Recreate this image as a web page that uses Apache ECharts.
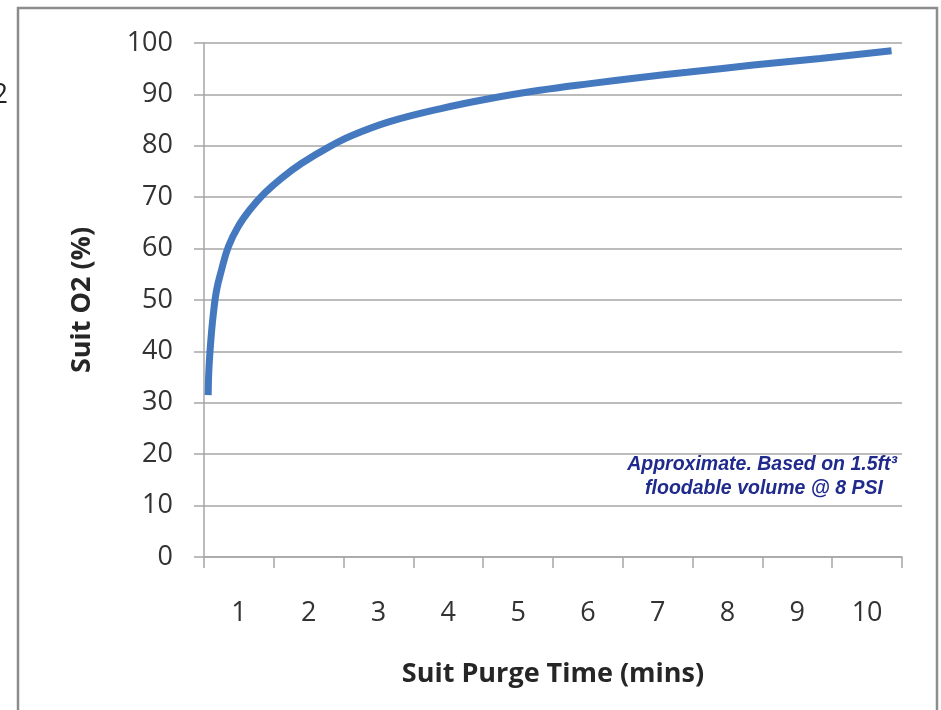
<!DOCTYPE html>
<html><head><meta charset="utf-8">
<script src="https://cdn.jsdelivr.net/npm/echarts@6/dist/echarts.min.js"></script>
<style>html,body{margin:0;padding:0;background:#fff}#c{width:941px;height:710px}</style>
</head><body><div id="c"></div>
<script>
const categories = ['1','2','3','4','5','6','7','8','9','10'];
const yTicks = {min: 0, max: 100, interval: 10};
// purge time (mins), suit O2 (%)
const purgeTime = [0.56, 0.57, 0.596, 0.633, 0.68, 0.754, 0.85, 0.99, 1.16, 1.37, 1.61, 1.90, 2.28, 2.62, 3.16, 3.88, 4.60, 5.31, 6.03, 6.75, 7.42, 8.37, 9.33, 10.35];
const suitO2    = [31.5, 36.4, 41.8, 47.2, 51.9, 56.0, 60.4, 64.3, 67.6, 70.8, 73.7, 76.6, 79.7, 82.0, 84.7, 87.2, 89.2, 90.8, 92.1, 93.3, 94.3, 95.7, 97.0, 98.5];
const noteLines = ['Approximate. Based on 1.5ft\u00B3', 'floodable volume @ 8 PSI'];

const chart = echarts.init(document.getElementById('c'), null, {renderer: 'canvas'});
const font = '"Open Sans", Lato, sans-serif';
const gridCol = '#a6a6a6';
chart.setOption({
  animation: false,
  backgroundColor: '#fff',
  grid: {left: 204, right: 39, top: 43, bottom: 153},
  xAxis: [{
    type: 'category', data: categories, boundaryGap: true,
    name: 'Suit Purge Time (mins)', nameLocation: 'middle', nameGap: 104,
    nameTextStyle: {fontFamily: font, fontSize: 27, fontWeight: 'bold', color: '#262626'},
    axisLine: {lineStyle: {color: gridCol, width: 1.5}},
    axisTick: {show: true, length: 11, lineStyle: {color: gridCol, width: 1.5}},
    axisLabel: {fontFamily: font, fontSize: 27, color: '#333', margin: 43},
    splitLine: {show: false}
  }, {
    type: 'value', min: 0.5, max: 10.5, show: false
  }],
  yAxis: {
    type: 'value', min: yTicks.min, max: yTicks.max, interval: yTicks.interval,
    name: 'Suit O2 (%)', nameLocation: 'middle', nameGap: 108,
    nameTextStyle: {fontFamily: font, fontSize: 27, fontWeight: 'bold', color: '#262626'},
    axisLine: {show: true, lineStyle: {color: gridCol, width: 1.5}},
    axisTick: {show: true, length: 10, lineStyle: {color: gridCol, width: 1.5}},
    axisLabel: {fontFamily: font, fontSize: 27, color: '#333', margin: 31},
    splitLine: {show: true, lineStyle: {color: gridCol, width: 1.5}}
  },
  series: [{
    type: 'line', xAxisIndex: 1, data: purgeTime.map((t, i) => [t, suitO2[i]]),
    smooth: 0.4, showSymbol: false,
    lineStyle: {color: '#4479bf', width: 7, cap: 'butt'}
  }],
  graphic: [
    {type: 'rect', shape: {x: 18, y: 8, width: 919, height: 720},
     style: {fill: 'none', stroke: '#8c8c8c', lineWidth: 2.5}},
    {type: 'text', x: 8, y: 95, style: {text: '2', fontSize: 27, fontFamily: font, fill: '#222', align: 'right', verticalAlign: 'middle'}},
    {type: 'text', x: 897, y: 465, style: {text: noteLines[0], fontSize: 19.5, fontWeight: 'bold', fontStyle: 'italic', fontFamily: '"Liberation Sans", Arial, sans-serif', fill: '#1f2a8c', align: 'right', verticalAlign: 'middle'}},
    {type: 'text', x: 764, y: 489, style: {text: noteLines[1], fontSize: 19.5, fontWeight: 'bold', fontStyle: 'italic', fontFamily: '"Liberation Sans", Arial, sans-serif', fill: '#1f2a8c', align: 'center', verticalAlign: 'middle'}}
  ]
});
</script></body></html>
